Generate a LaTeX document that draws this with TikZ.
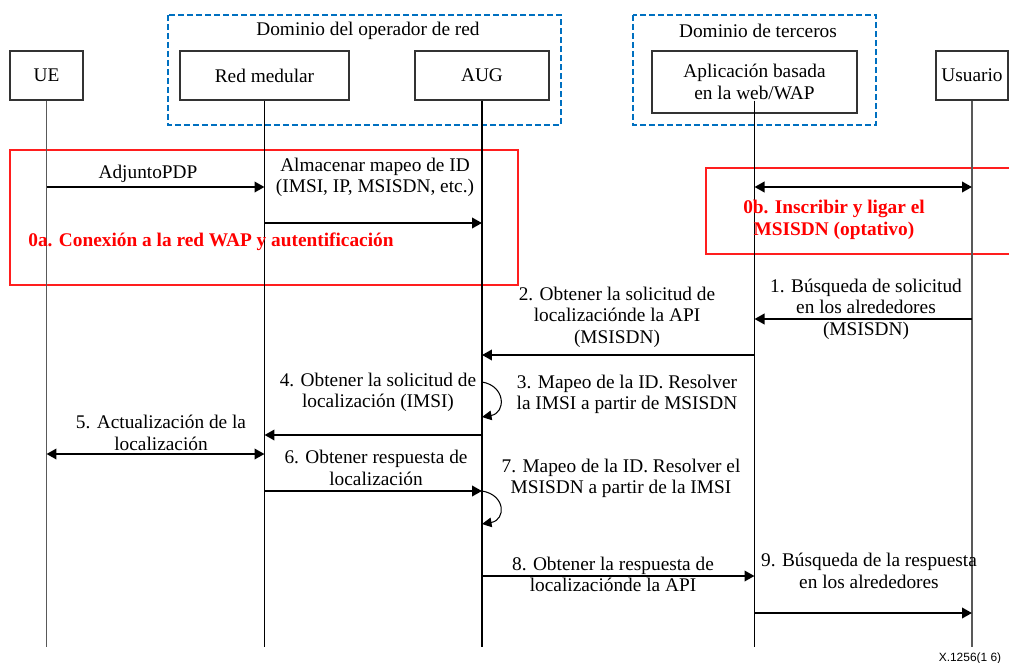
\documentclass[tikz,border=0pt]{standalone}
\usepackage{fontspec}
\setmainfont{Liberation Serif}
\newfontfamily\figfont{Liberation Sans}
\usetikzlibrary{arrows.meta}

\definecolor{domblue}{RGB}{0,112,192}
\definecolor{phasered}{RGB}{255,30,30}

\tikzset{
  actor/.style={draw=black!80, line width=0.6pt, inner sep=0pt, minimum height=0.98cm, align=center},
  lifeline/.style={line width=0.6pt},
  grayline/.style={draw=black!65, line width=0.9pt},
  msg/.style={line width=1.2pt, -{Triangle[length=0.2cm,width=0.21cm]}},
  dmsg/.style={line width=1.2pt, {Triangle[length=0.2cm,width=0.21cm]}-{Triangle[length=0.2cm,width=0.21cm]}},
  selfmsg/.style={line width=0.6pt, -{Triangle[length=0.19cm,width=0.19cm]}},
  domainbox/.style={draw=domblue, line width=0.9pt, dash pattern=on 0.12cm off 0.06cm},
  phasebox/.style={draw=phasered, line width=0.6pt},
  msglabel/.style={inner sep=0pt, align=center},
  phaselabel/.style={inner sep=0pt, align=center, text=red, font=\fontsize{11}{12.2}\selectfont\bfseries}
}

\begin{document}
\begin{tikzpicture}[x=0.02cm, y=-0.02cm, font=\fontsize{11}{12.2}\selectfont]
  \useasboundingbox (0,0) rectangle (1009,663);

  % domains
  \draw[domainbox] (168,15) rectangle (561,125);
  \draw[domainbox] (633,15) rectangle (876,125);
  \node[msglabel] (opdom) at (368,31) {Dominio del operador de red};
  \node[msglabel] (tpdom) at (758,31) {Dominio de terceros};

  % actors
  \node[actor, minimum width=1.46cm] (ue) at (46.5,75.5) {UE};
  \node[actor, minimum width=3.38cm] (red) at (264.5,75.5) {Red medular};
  \node[actor, minimum width=2.68cm] (aug) at (482,75.5) {AUG};
  \node[actor, minimum width=4.1cm, minimum height=1.24cm] (app) at (754.5,82)
    {Aplicación basada\\en la web/WAP};
  \node[actor, minimum width=1.44cm] (usr) at (972,75.5) {Usuario};
  \coordinate (bottom) at (0,647);

  % phases
  \draw[phasebox] (10,150) rectangle (518,285);
  \draw[phasebox] (706,168) rectangle (1015,254);

  % lifelines
  \draw[grayline] (ue.south) -- (ue.south |- bottom);
  \draw[lifeline] (red.south) -- (red.south |- bottom);
  \draw[lifeline] (aug.south) -- (aug.south |- bottom);
  \draw[lifeline] ([yshift=0.26cm]app.south) -- (app.south |- bottom);
  \draw[grayline] (usr.south) -- (usr.south |- bottom);

  % 0a
  \draw[msg] (ue.south |- 0,187) -- (red.south |- 0,187);
  \node[msglabel] (pdp) at (148,174) {AdjuntoPDP};
  \draw[msg] (red.south |- 0,223) -- (aug.south |- 0,223);
  \node[msglabel] (store) at (375,177.5) {Almacenar mapeo de ID\\(IMSI, IP, MSISDN, etc.)};
  \node[phaselabel, anchor=west] (ph0a) at (28,242) {0a. Conexión a la red WAP y autentificación};

  % 0b
  \draw[dmsg] (app.south |- 0,187) -- (usr.south |- 0,187);
  \node[phaselabel] (ph0b) at (834,220) {0b. Inscribir y ligar el\\MSISDN (optativo)};

  % 1-9
  \draw[msg] (usr.south |- 0,319) -- (app.south |- 0,319);
  \node[msglabel] (m1) at (866,309) {1. Búsqueda de solicitud\\en los alrededores\\(MSISDN)};
  \draw[msg] (app.south |- 0,355) -- (aug.south |- 0,355);
  \node[msglabel] (m2) at (617,317) {2. Obtener la solicitud de\\localizaciónde la API\\(MSISDN)};
  \draw[selfmsg] (aug.south |- 0,382) .. controls +(24,4) and +(24,-4) .. (aug.south |- 0,417);
  \node[msglabel] (m3) at (627,394.5) {3. Mapeo de la ID. Resolver\\la IMSI a partir de MSISDN};
  \draw[msg] (aug.south |- 0,435) -- (red.south |- 0,435);
  \node[msglabel] (m4) at (378,392.5) {4. Obtener la solicitud de\\localización (IMSI)};
  \draw[dmsg] (ue.south |- 0,454) -- (red.south |- 0,454);
  \node[msglabel] (m5) at (161,433) {5. Actualización de la\\localización};
  \draw[msg] (red.south |- 0,491) -- (aug.south |- 0,491);
  \node[msglabel] (m6) at (376,468) {6. Obtener respuesta de\\localización};
  \draw[selfmsg] (aug.south |- 0,491) .. controls +(24,4) and +(24,-4) .. (aug.south |- 0,524);
  \node[msglabel] (m7) at (621,478.5) {7. Mapeo de la ID. Resolver el\\MSISDN a partir de la IMSI};
  \draw[msg] (aug.south |- 0,576) -- (app.south |- 0,576);
  \node[msglabel] (m8) at (613,574.5) {8. Obtener la respuesta de\\localizaciónde la API};
  \draw[msg] (app.south |- 0,613) -- (usr.south |- 0,613);
  \node[msglabel] (m9) at (869,571) {9. Búsqueda de la respuesta\\en los alrededores};

  \node[inner sep=0pt, font=\figfont\fontsize{6.8}{8}\selectfont] (fig) at (970,658) {X.1256(1 6)};
\end{tikzpicture}
\end{document}
